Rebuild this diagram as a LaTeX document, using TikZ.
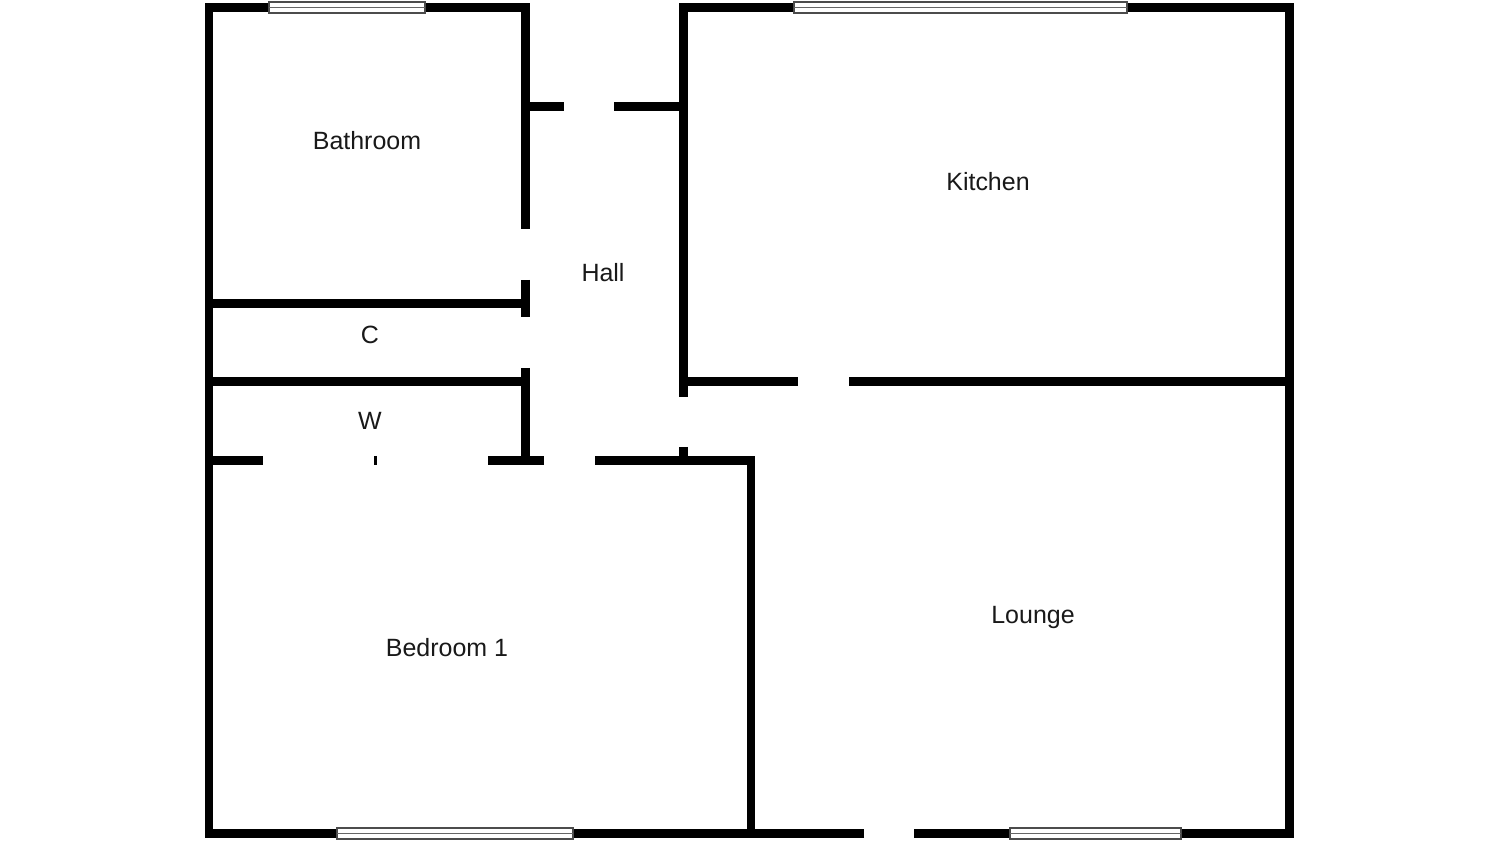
\documentclass[tikz,border=0pt]{standalone}
\usepackage{fontspec}
\setmainfont{Liberation Sans}
\tikzset{
	wall/.style={line width=0.088cm,black},
	thinwall/.style={line width=0.03cm,black},
	windowframe/.style={draw=black!70,fill=white,line width=0.012cm},
	windowbar/.style={draw=black!60,line width=0.012cm},
	roomlabel/.style={font=\fontsize{7.1pt}{8.5pt}\selectfont,text=black!90,inner sep=0pt}
}
\begin{document}
\begin{tikzpicture}[x=0.01cm,y=-0.01cm]
			\useasboundingbox (0,0) rectangle (1500,843);
			\fill[white] (0,0) rectangle (1500,843);
			% outer walls
			\draw[wall] (864,833.5)--(209,833.5)--(209,7.5)--(525.5,7.5)--(525.5,229);
			\draw[wall] (914,833.5)--(1289.5,833.5)--(1289.5,7.5)--(683.5,7.5)--(683.5,397);
			% hall and cupboards
			\draw[wall] (525.5,106.5)--(564,106.5);
			\draw[wall] (614,106.5)--(683.5,106.5);
			\draw[wall] (525.5,280)--(525.5,317);
			\draw[wall] (209,303.5)--(525.5,303.5);
			\draw[wall] (209,381.5)--(525.5,381.5);
			\draw[wall] (525.5,368)--(525.5,460.5);
			\draw[wall] (683.5,381.5)--(798,381.5);
			\draw[wall] (849,381.5)--(1289.5,381.5);
			\draw[wall] (683.5,447)--(683.5,460.5);
			% bedroom
			\draw[wall] (209,460.5)--(263,460.5);
			\draw[wall] (488,460.5)--(544,460.5);
			\draw[wall] (595,460.5)--(751,460.5)--(751,833.5);
			\draw[thinwall] (375,456)--(375,465);
			% windows
			\draw[windowframe] (269,2) rectangle (425,13);
			\draw[windowbar] (269,7.5)--(425,7.5);
			\draw[windowframe] (794,2) rectangle (1127,13);
			\draw[windowbar] (794,7.5)--(1127,7.5);
			\draw[windowframe] (337,828) rectangle (573,839);
			\draw[windowbar] (337,833.5)--(573,833.5);
			\draw[windowframe] (1010,828) rectangle (1181,839);
			\draw[windowbar] (1010,833.5)--(1181,833.5);
			% rooms
			\node[roomlabel] (bathroom) at (367,141) {Bathroom};
			\node[roomlabel] (kitchen) at (988,182) {Kitchen};
			\node[roomlabel] (hall) at (603,273) {Hall};
			\node[roomlabel] (cupboard) at (370,335) {C};
			\node[roomlabel] (wardrobe) at (370,421) {W};
			\node[roomlabel] (lounge) at (1033,618) {Lounge};
			\node[roomlabel] (bedroom) at (447,648) {Bedroom 1};
		\end{tikzpicture}
\end{document}
